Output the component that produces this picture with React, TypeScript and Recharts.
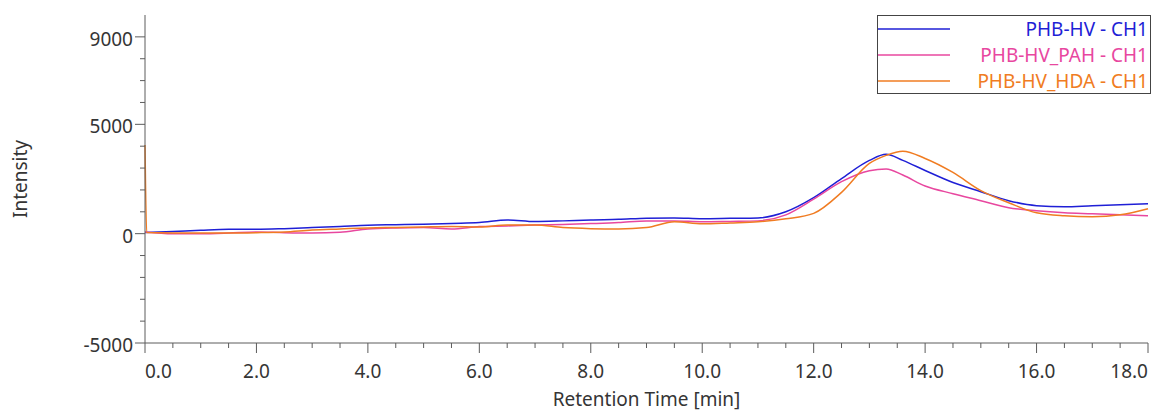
import { Line, LineChart, XAxis, YAxis } from 'recharts';

const FONT = '"Noto Sans", "Open Sans", sans-serif';
const AXIS_COLOR = '#5c5c5c';
const TEXT_COLOR = '#353535';

// retention time [min]
const times = [
  0, 0.5, 1, 1.5, 2, 2.5, 3, 3.5, 4, 4.5, 5, 5.5, 6, 6.5, 7, 7.5, 8, 8.5, 9, 9.5,
  10, 10.5, 11, 11.5, 12, 12.5, 13, 13.3, 13.6, 14, 14.5, 15, 15.5, 16, 16.5, 17,
  17.5, 18,
];

const phbHv = [
  50, 100, 157, 200, 200, 230, 277, 330, 387, 410, 433, 470, 507, 630, 553, 585,
  630, 655, 710, 720, 680, 700, 720, 1000, 1645, 2520, 3350, 3630, 3350, 2890,
  2340, 1920, 1510, 1280, 1230, 1280, 1320, 1370,
];

const phbHvPah = [
  80, 0, 0, 30, 80, 46, 30, 60, 217, 263, 277, 217, 323, 355, 400, 424, 461, 507,
  585, 585, 540, 560, 585, 860, 1580, 2380, 2880, 2960, 2680, 2180, 1830, 1510,
  1185, 1045, 955, 910, 860, 815,
];

const phbHvHda = [
  50, 30, 30, 30, 46, 80, 170, 217, 263, 285, 310, 330, 310, 400, 400, 277, 230,
  217, 277, 540, 450, 490, 540, 680, 930, 1890, 3210, 3580, 3770, 3440, 2800,
  1970, 1415, 955, 815, 770, 860, 1140,
];

// injection spike on the HDA trace right at t = 0
const hdaSpikeTimes = [0, 0.03];
const hdaSpikeValues = [4050, 50];

const xTicks = Array.from({ length: 37 }, (_, i) => i * 0.5);
const xLabeled = [0, 2, 4, 6, 8, 10, 12, 14, 16, 18];
const yTicks = [-5000, -4000, -3000, -2000, -1000, 0, 1000, 2000, 3000, 4000, 5000, 6000, 7000, 8000, 9000];
const yLabeled = [-5000, 0, 5000, 9000];

const toRows = (ts: number[], vs: number[]) => ts.map((time, i) => ({ time, value: vs[i] }));

const series = [
  { name: 'PHB-HV - CH1', color: '#1f1fd6', rows: toRows(times, phbHv) },
  { name: 'PHB-HV_PAH - CH1', color: '#e8479f', rows: toRows(times, phbHvPah) },
  {
    name: 'PHB-HV_HDA - CH1',
    color: '#f07c22',
    rows: [...toRows(hdaSpikeTimes, hdaSpikeValues), ...toRows(times.slice(1), phbHvHda.slice(1))],
  },
];

const XTick = ({ x, y, payload }: any) => {
  const v = payload.value;
  const major = xLabeled.some((m) => Math.abs(m - v) < 1e-6);
  const anchor = v === xLabeled[0] ? 'start' : v === xLabeled[xLabeled.length - 1] ? 'end' : 'middle';
  return (
    <g>
      <line x1={x} x2={x} y1={y} y2={y + (major ? 10 : 5)} stroke={AXIS_COLOR} />
      {major && (
        <text x={x} y={y + 35} textAnchor={anchor} fontSize={19} fontFamily={FONT} fill={TEXT_COLOR}>
          {v.toFixed(1)}
        </text>
      )}
    </g>
  );
};

const YTick = ({ x, y, payload }: any) => {
  const v = payload.value;
  const major = yLabeled.includes(v);
  return (
    <g>
      <line x1={x - (major ? 10 : 5)} x2={x} y1={y} y2={y} stroke={AXIS_COLOR} />
      {major && (
        <text x={x - 12} y={y + 9} textAnchor="end" fontSize={19} fontFamily={FONT} fill={TEXT_COLOR}>
          {v}
        </text>
      )}
    </g>
  );
};

const ChromLegend = () => (
  <div
    style={{
      position: 'absolute',
      left: 877,
      top: 15,
      width: 272,
      height: 77,
      border: '1px solid #444',
      background: '#fff',
      fontFamily: FONT,
      fontSize: 19,
      lineHeight: '26px',
    }}
  >
    {series.map((s) => (
      <div key={s.name} style={{ display: 'flex', alignItems: 'center', height: 26 }}>
        <svg width={72} height={4} style={{ display: 'block' }}>
          <line x1={0} x2={72} y1={2} y2={2} stroke={s.color} strokeWidth={1.5} />
        </svg>
        <div style={{ flex: 1, textAlign: 'right', color: s.color, paddingRight: 2, whiteSpace: 'nowrap' }}>
          {s.name}
        </div>
      </div>
    ))}
  </div>
);

export default function App() {
  return (
    <div style={{ position: 'absolute', left: 0, top: 0, width: 1154, height: 412, background: '#fff' }}>
      <LineChart width={1154} height={412} margin={{ top: 15, right: 6, bottom: 4, left: 0 }}>
        <XAxis
          dataKey="time"
          type="number"
          domain={[0, 18]}
          ticks={xTicks}
          interval={0}
          tickSize={0}
          tickMargin={0}
          tick={<XTick />}
          height={65}
          axisLine={{ stroke: AXIS_COLOR }}
          allowDuplicatedCategory={false}
          label={{
            value: 'Retention Time [min]',
            position: 'insideBottom',
            offset: 2,
            fontSize: 19,
            fontFamily: FONT,
            fill: TEXT_COLOR,
          }}
        />
        <YAxis
          type="number"
          domain={[-5000, 10000]}
          ticks={yTicks}
          interval={0}
          tickSize={0}
          tickMargin={0}
          tick={<YTick />}
          width={145}
          axisLine={{ stroke: AXIS_COLOR }}
          label={{
            value: 'Intensity',
            angle: -90,
            position: 'insideLeft',
            offset: 20,
            fontSize: 19,
            fontFamily: FONT,
            fill: TEXT_COLOR,
            style: { textAnchor: 'middle' },
          }}
        />
        {series.map((s) => (
          <Line
            key={s.name}
            data={s.rows}
            dataKey="value"
            name={s.name}
            type="monotone"
            stroke={s.color}
            strokeWidth={1.5}
            dot={false}
            activeDot={false}
            isAnimationActive={false}
          />
        ))}
      </LineChart>
      <ChromLegend />
    </div>
  );
}
